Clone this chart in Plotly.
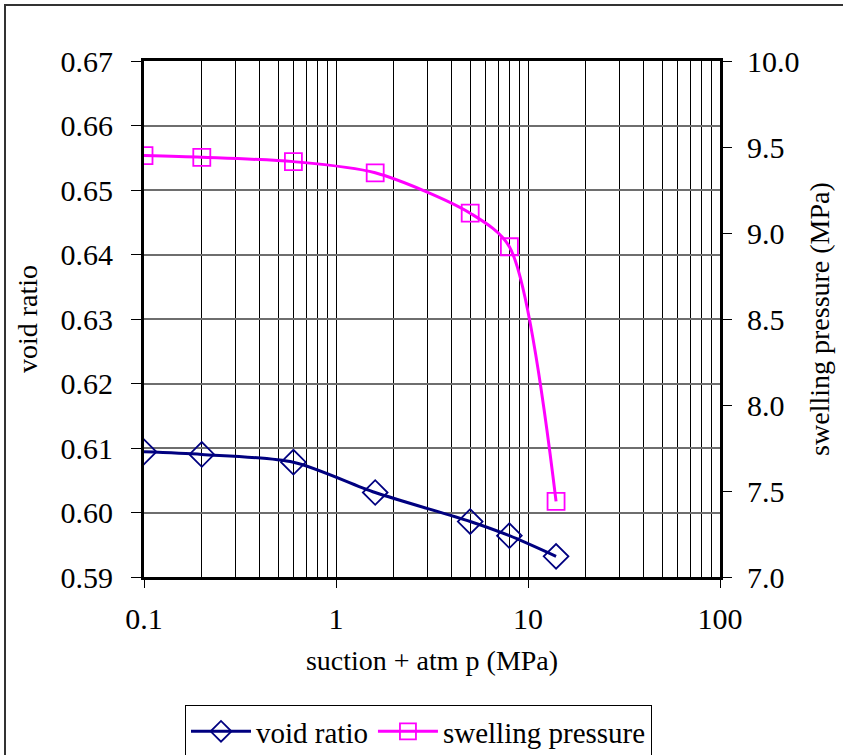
import plotly.graph_objects as go

suction = [0.1, 0.2, 0.6, 1.6, 5, 8, 14]
void_ratio = [0.6094, 0.6090, 0.6078, 0.6031, 0.5986, 0.5964, 0.5932]
swelling_pressure = [9.45, 9.44, 9.415, 9.35, 9.115, 8.92, 7.44]

x_major = [0.1, 1, 10, 100]
x_major_text = ["0.1", "1", "10", "100"]
x_minor = [m * d for d in (0.1, 1, 10) for m in range(2, 10)]
y_left_ticks = [0.59, 0.60, 0.61, 0.62, 0.63, 0.64, 0.65, 0.66, 0.67]
y_right_ticks = [7.0, 7.5, 8.0, 8.5, 9.0, 9.5, 10.0]

FONT = "Liberation Serif, Times New Roman, DejaVu Serif, serif"
NAVY = "#000080"
MAGENTA = "#FF00FF"

fig = go.Figure()
fig.add_trace(go.Scatter(
    x=suction, y=void_ratio, name="void ratio", mode="lines+markers",
    line=dict(color=NAVY, width=3, shape="spline", smoothing=0.8),
    marker=dict(symbol="diamond-open", size=19, color=NAVY, line=dict(width=1.8, color=NAVY)),
    yaxis="y"))
fig.add_trace(go.Scatter(
    x=suction, y=swelling_pressure, name="swelling pressure", mode="lines+markers",
    line=dict(color=MAGENTA, width=3, shape="spline", smoothing=0.8),
    marker=dict(symbol="square-open", size=17, color=MAGENTA, line=dict(width=1.8, color=MAGENTA)),
    yaxis="y2"))

L, R, T, B = 144, 123, 61, 178
W, H = 843, 755
pw, ph = W - L - R, H - T - B

fig.update_layout(
    width=W, height=H,
    margin=dict(l=L, r=R, t=T, b=B, autoexpand=False),
    paper_bgcolor="white", plot_bgcolor="white",
    font=dict(family=FONT, color="black", size=28),
    showlegend=True,
    legend=dict(orientation="h", x=(185 - L) / pw, xanchor="left",
                y=-(705 - (T + ph)) / ph, yanchor="top",
                bordercolor="black", borderwidth=1, bgcolor="white",
                font=dict(family=FONT, size=29), itemwidth=60,
                tracegroupgap=0),
    xaxis=dict(type="log", range=[-1, 2], automargin=False,
               tickvals=x_major, ticktext=x_major_text,
               ticks="outside", ticklen=8, tickcolor="black", tickwidth=1,
               ticklabelstandoff=5,
               tickfont=dict(family=FONT, size=30),
               showgrid=True, gridcolor="black", gridwidth=1,
               minor=dict(tickvals=x_minor, showgrid=True, gridcolor="black",
                          gridwidth=1, ticks=""),
               showline=True, linecolor="black", linewidth=3, mirror=True,
               zeroline=False,
               title=dict(text="suction + atm p (MPa)", font=dict(family=FONT, size=28), standoff=17)),
    yaxis=dict(range=[0.59, 0.67], tickvals=y_left_ticks, tickformat=".2f", automargin=False,
               ticks="outside", ticklen=10, tickcolor="black", tickwidth=1,
               ticklabelstandoff=12,
               tickfont=dict(family=FONT, size=30),
               showgrid=True, gridcolor="#6e6e6e", gridwidth=1.5,
               showline=True, linecolor="black", linewidth=3, mirror=True,
               zeroline=False,
               title=dict(text="void ratio", font=dict(family=FONT, size=28), standoff=15)),
    yaxis2=dict(range=[7.0, 10.0], tickvals=y_right_ticks, tickformat=".1f", automargin=False,
                overlaying="y", side="right",
                ticks="outside", ticklen=11, tickcolor="black", tickwidth=1,
                ticklabelstandoff=9,
                tickfont=dict(family=FONT, size=30),
                showgrid=False, zeroline=False, showline=False,
                title=dict(text="swelling pressure (MPa)", font=dict(family=FONT, size=28), standoff=10)),
)

# outer chart border
fig.add_shape(type="rect", xref="paper", yref="paper",
              x0=(5 - L) / pw, x1=(W + 5 - L) / pw,
              y0=-(H + 5 - (T + ph)) / ph, y1=1 + (T - 5) / ph,
              line=dict(color="#333333", width=2), fillcolor="rgba(0,0,0,0)", layer="below")

fig.write_html("out.html")
